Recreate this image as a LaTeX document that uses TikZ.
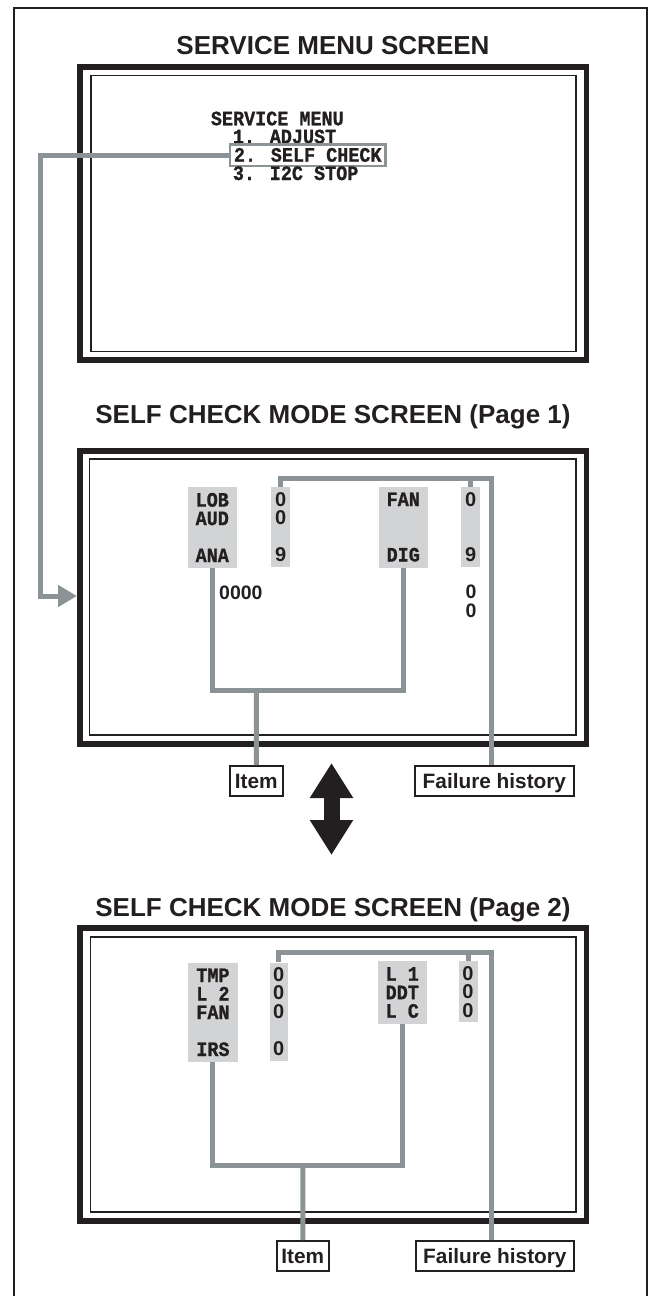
\documentclass[tikz,border=0pt]{standalone}
\usepackage{fontspec}
\setmainfont{Liberation Sans}
\newfontfamily\osdmono[FakeStretch=0.9,FakeBold=1]{Liberation Mono}
\usetikzlibrary{arrows.meta}

\definecolor{inkblack}{HTML}{231F20}
\definecolor{linegray}{HTML}{8C9397}
\definecolor{cellgray}{HTML}{D1D3D4}

\tikzset{
  scrframe/.style={draw=inkblack, line width=5.5pt},
  scrinner/.style={draw=inkblack, line width=1.6pt},
  gline/.style={draw=linegray, line width=5pt, line join=miter},
  ttl/.style={font=\bfseries\fontsize{26}{30}\selectfont, text=inkblack, anchor=base, inner sep=0pt},
  osd/.style={font=\osdmono\bfseries\fontsize{20.5}{18.5}\selectfont, text=inkblack, inner sep=0pt},
  cell/.style={osd, fill=cellgray, align=center, anchor=north west, inner xsep=0pt, inner ysep=6pt},
  valcell/.style={cell, font=\bfseries\fontsize{20}{18.5}\selectfont, inner ysep=5pt},
  zsans/.style={font=\bfseries\fontsize{19.5}{18.3}\selectfont, text=inkblack, inner sep=0pt, align=center},
  tag/.style={draw=inkblack, line width=1.8pt, font=\bfseries\fontsize{20.8}{24}\selectfont, text=inkblack,
    minimum height=30pt, inner xsep=4pt, text height=15pt, text depth=0pt, anchor=north west},
}

\begin{document}
\begin{tikzpicture}[x=1pt,y=-1pt]
  \useasboundingbox (0,0) rectangle (652,1296);
  \draw[inkblack, line width=2pt] (14,1300) -- (14,8) -- (647,8) -- (647,1300); % page frame, open at the bottom

  % service menu screen
  \node[ttl] (ttlmenu) at (333,54) {SERVICE MENU SCREEN};
  \draw[scrframe] (79.75,66.75) rectangle (586.25,360);
  \draw[scrinner] (91,75.5) rectangle (576,351.5);
  \node[osd, anchor=base west] (menuhead) at (210.7,125.3) {SERVICE MENU};
  \node[osd, anchor=base west] (adjust) at (232.7,143.3) {1. ADJUST};
  \node[osd, anchor=base west, draw=linegray, line width=2.5pt, inner xsep=4pt, inner ysep=4.3pt,
    text height=13pt, text depth=0pt] (selfchk) at (228.7,161.7) {2. SELF CHECK};
  \node[osd, anchor=base west] (i2cstop) at (232.7,180) {3. I2C STOP};

  % self check page 1
  \node[ttl] (ttlpgone) at (333,423) {SELF CHECK MODE SCREEN (Page 1)};
  \draw[scrframe] (79.75,450.75) rectangle (586.25,744);
  \draw[scrinner] (89.5,459) rectangle (576,735);
  \node[cell, minimum width=49.5pt] (itma) at (187.3,486.7) {LOB\\AUD\\~\\ANA};
  \node[valcell, minimum width=19pt] (vala) at (271,487) {0\\0\\~\\9};
  \node[cell, minimum width=49.5pt] (itmb) at (378.3,486.3) {FAN\\~\\~\\DIG};
  \node[valcell, minimum width=19pt] (valb) at (461,487) {0\\~\\~\\9};
  \node[zsans, anchor=base west] (cnta) at (219,599) {0000};
  \node[zsans, anchor=north] (cntb) at (471,585) {0\\0};
  \node[tag, minimum width=52.7pt] (itemone) at (229,765) {Item};
  \node[tag, minimum width=159pt] (failone) at (414,765) {Failure history};

  \coordinate (turn) at (40,596);
  \coordinate (pgonein) at (77,596);
  \draw[gline, -{Triangle[length=19pt,width=21pt]}] (selfchk.west) -| (turn) -- (pgonein); % menu item leads to page 1

  \coordinate (joinone) at (256.5,690);
  \coordinate (topone) at (491,478);
  \draw[gline] (itma.south) |- (itmb.south |- joinone) -- (itmb.south);
  \draw[gline] (joinone) -- (itemone.north);
  \draw[gline] (vala.north) |- (topone) -- (topone |- failone.north);
  \draw[gline] (valb.north) -- (valb.north |- topone);

  % page switch
  \coordinate (swtop) at (331.5,763);
  \coordinate (swbot) at (331.5,855);
  \draw[inkblack, line width=16pt, {Triangle[length=35pt,width=41pt]}-{Triangle[length=35pt,width=41pt]}] (swtop) -- (swbot);

  % self check page 2
  \node[ttl] (ttlpgtwo) at (333,916.5) {SELF CHECK MODE SCREEN (Page 2)};
  \draw[scrframe] (79.75,927.75) rectangle (586.25,1220.75);
  \draw[scrinner] (90.5,936.7) rectangle (576,1212);
  \node[cell, minimum width=49.5pt] (itmc) at (188,962.3) {TMP\\L 2\\FAN\\~\\IRS};
  \node[valcell, minimum width=18.5pt] (valc) at (269.3,962.3) {0\\0\\0\\~\\0};
  \node[cell, minimum width=49.5pt] (itmd) at (377.3,961) {L 1\\DDT\\L C};
  \node[valcell, minimum width=19pt] (vald) at (458.3,961) {0\\0\\0};
  \node[tag, minimum width=51.7pt] (itemtwo) at (276,1240) {Item};
  \node[tag, minimum width=158.6pt] (failtwo) at (414.7,1240) {Failure history};

  \coordinate (jointwo) at (302.8,1165);
  \coordinate (toptwo) at (491,952.5);
  \draw[gline] (itmc.south) |- (itmd.south |- jointwo) -- (itmd.south);
  \draw[gline] (jointwo) -- (itemtwo.north);
  \draw[gline] (valc.north) |- (toptwo) -- (toptwo |- failtwo.north);
  \draw[gline] (vald.north) -- (vald.north |- toptwo);
\end{tikzpicture}
\end{document}
